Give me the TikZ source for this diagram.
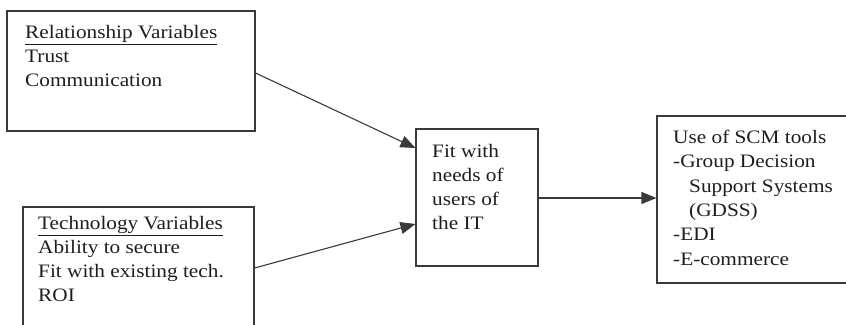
\documentclass[tikz,border=0pt]{standalone}
\usepackage{fontspec}
\setmainfont{Liberation Serif}[FakeStretch=1.12]
\usetikzlibrary{arrows.meta}
\definecolor{ink}{HTML}{3A3A3A}
\definecolor{txt}{HTML}{1E1E1E}
\tikzset{
  boxnode/.style={draw=ink, line width=1.1pt, rectangle, inner sep=0pt},
  label/.style={anchor=base west, inner sep=0pt, align=left, text=txt,
    font=\fontsize{19}{23.8}\selectfont},
  conn/.style={draw=ink, line width=1.1pt, -{Triangle[length=15pt,width=12pt]}}
}
\begin{document}
\begin{tikzpicture}[x=1pt,y=-1pt]
\useasboundingbox (0,0) rectangle (846,324);
\clip (0,0) rectangle (846,324);
\fill[white] (0,0) rectangle (846,324);
% boxes
\node[boxnode, minimum width=248pt, minimum height=120pt] (rel) at (131,71) {};
\node[boxnode, minimum width=231pt, minimum height=160pt] (tech) at (138.5,287) {};
\node[boxnode, minimum width=122pt, minimum height=137pt] (fit) at (477,197.5) {};
\node[boxnode, minimum width=200pt, minimum height=167pt] (use) at (757,199.5) {};
% texts (anchored at the baseline of their last line)
\node[label] (reltxt) at (25,86) {\underline{Relationship Variables}\\Trust\\Communication};
\node[label] (techtxt) at (38,301) {\underline{Technology Variables}\\Ability to secure\\Fit with existing tech.\\ROI};
\node[label] (fittxt) at (432,229) {Fit with\\needs of\\users of\\the IT};
\node[label, font=\fontsize{19}{24.3}\selectfont] (usetxt) at (673,265) {Use of SCM tools\\-Group Decision\\\hspace*{16pt}Support Systems\\\hspace*{16pt}(GDSS)\\-EDI\\-E-commerce};
% connectors
\coordinate (a1s) at (254,73);
\coordinate (a1e) at (416,148);
\coordinate (a2s) at (254,268);
\coordinate (a2e) at (416,224);
\draw[conn] (rel.east |- a1s) -- (fit.west |- a1e);
\draw[conn] (tech.east |- a2s) -- (fit.west |- a2e);
\draw[conn] (fit.east |- 0,198) -- (use.west |- 0,198);
\end{tikzpicture}
\end{document}
